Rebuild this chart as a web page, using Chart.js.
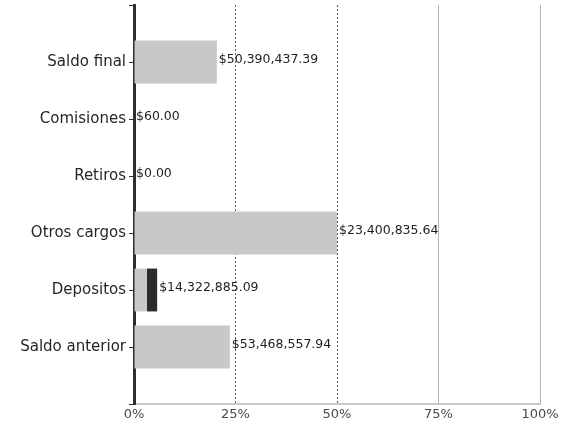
<!DOCTYPE html>
<html>
<head>
<meta charset="utf-8">
<script src="https://cdn.jsdelivr.net/npm/chart.js@4/dist/chart.umd.min.js"></script>
<style>
  html, body { margin: 0; padding: 0; background: #fff; }
  #chart { display: block; }
</style>
</head>
<body>
<canvas id="chart" width="571" height="438"></canvas>
<script>
// categories top to bottom
const categories = ['Saldo final', 'Comisiones', 'Retiros', 'Otros cargos', 'Depositos', 'Saldo anterior'];
// bar lengths
const barPct = [20.4, 0, 0, 50, 3.2, 23.6];
// dark tail on the Depositos bar
const darkPct = [0, 0, 0, 0, 2.5, 0];
const amountLabels = ['$50,390,437.39', '$60.00', '$0.00', '$23,400,835.64', '$14,322,885.09', '$53,468,557.94'];
const xTicks = [0, 25, 50, 75, 100];

const amountPlugin = {
    id: 'amounts',
    afterDatasetsDraw(chart) {
        const ctx = chart.ctx;
        const xs = chart.scales.x;
        const ys = chart.scales.y;
        ctx.save();
        ctx.font = '12.5px "DejaVu Sans"';
        ctx.fillStyle = '#1e1e1e';
        ctx.textBaseline = 'middle';
        ctx.textAlign = 'left';
        categories.forEach((c, i) => {
            const end = xs.getPixelForValue(barPct[i] + darkPct[i]);
            ctx.fillText(amountLabels[i], end + 2, ys.getPixelForValue(i) - 2);
        });
        ctx.restore();
    }
};

new Chart(document.getElementById('chart').getContext('2d'), {
    type: 'bar',
    data: {
        datasets: [{
            data: barPct.map((v, i) => ({ x: v, y: i })),
            backgroundColor: '#c8c8c8',
            borderWidth: 0,
            categoryPercentage: 0.8,
            barPercentage: 0.94
        }, {
            data: darkPct.map((v, i) => ({ x: v, y: i })),
            backgroundColor: '#2b2b2b',
            borderWidth: 0,
            categoryPercentage: 0.8,
            barPercentage: 0.94
        }]
    },
    options: {
        indexAxis: 'y',
        responsive: false,
        animation: false,
        devicePixelRatio: 1,
        layout: { padding: { top: 5, right: 31, bottom: 0, left: 0 } },
        plugins: {
            legend: { display: false },
            tooltip: { enabled: false }
        },
        scales: {
            x: {
                type: 'linear',
                stacked: true,
                min: 0,
                max: 100,
                afterBuildTicks: (scale) => { scale.ticks = xTicks.map(v => ({ value: v })); },
                afterFit: (scale) => { scale.height = 34; },
                grid: {
                    color: (ctx) => {
                        if (!ctx.tick || ctx.tick.value === 0) return 'rgba(0,0,0,0)';
                        return ctx.tick.value <= 50 ? '#5a5a5a' : '#b4b4b4';
                    },
                    lineWidth: 1,
                    tickLength: 0
                },
                border: {
                    color: '#c8c8c8',
                    width: 2,
                    dash: (ctx) => (ctx.tick && ctx.tick.value <= 50) ? [2, 2] : []
                },
                ticks: {
                    padding: 3,
                    color: '#4a4a4a',
                    font: { family: 'DejaVu Sans', size: 13 },
                    callback: (v) => v + '%'
                }
            },
            y: {
                type: 'linear',
                stacked: true,
                reverse: true,
                offset: false,
                min: -1,
                max: 6,
                z: 1,
                afterFit: (scale) => {
                    scale.width = 134;
                    scale.paddingTop = 0;
                    scale.paddingBottom = 0;
                },
                grid: {
                    offset: false,
                    drawOnChartArea: false,
                    tickLength: 5,
                    tickColor: '#333',
                    tickWidth: 1
                },
                border: { color: '#2e2e2e', width: 3 },
                ticks: {
                    stepSize: 1,
                    padding: 3,
                    color: '#262626',
                    font: { family: 'DejaVu Sans', size: 15 },
                    callback: (v) => categories[v] ?? ''
                }
            }
        }
    },
    plugins: [amountPlugin]
});
</script>
</body>
</html>
